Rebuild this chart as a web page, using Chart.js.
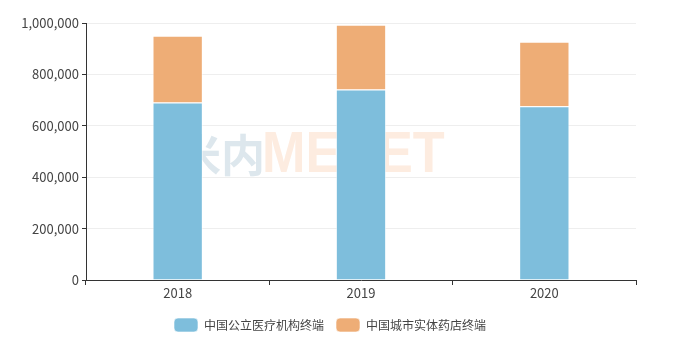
<!DOCTYPE html>
<html>
<head>
<meta charset="utf-8">
<script src="https://cdn.jsdelivr.net/npm/chart.js@4"></script>
<style>
  html, body { margin: 0; padding: 0; background: #fff; }
  #wrap { width: 675px; height: 346px; }
</style>
</head>
<body>
<div id="wrap"><canvas id="myChart" width="675" height="346"></canvas></div>
<script>
'use strict';

var years = ['2018', '2019', '2020'];
var publicHospital = [691000, 741000, 676000];
var retailPharmacy = [259000, 252000, 251000];
var seriesNames = ['中国公立医疗机构终端', '中国城市实体药店终端'];
var yTicks = [0, 200000, 400000, 600000, 800000, 1000000];

var axisColor = '#333';
var textColor = '#444';
var fontFamily = '"Noto Sans CJK SC", "Liberation Sans", sans-serif';
var font = { family: fontFamily, size: 13 };

// faint site watermark behind the bars
const watermark = {
    id: 'watermark',
    beforeDatasetsDraw: function (chart) {
        var ctx = chart.ctx;
        ctx.save();
        ctx.textBaseline = 'alphabetic';
        ctx.textAlign = 'left';
        ctx.font = 'bold 44px ' + fontFamily;
        ctx.fillStyle = 'rgb(221,231,237)';
        ctx.fillText('米内', 177, 172);
        ctx.translate(262, 172);
        ctx.scale(0.9, 1);
        ctx.font = 'bold 58px "Liberation Sans", sans-serif';
        ctx.fillStyle = 'rgb(253,236,224)';
        ctx.fillText('MENET', 0, 0);
        ctx.restore();
    }
};

// nudge the legend so it sits where the original one does
const legendShift = {
    id: 'legendShift',
    afterLayout: function (chart) {
        chart.legend.left += 12;
        chart.legend.right += 12;
    }
};

const data = {
    labels: years,
    datasets: [{
        label: seriesNames[0],
        data: publicHospital,
        backgroundColor: 'rgb(126,190,220)',
        borderColor: 'rgba(255,255,255,0.6)',
        borderWidth: 1,
        categoryPercentage: 0.9,
        barPercentage: 0.305
    }, {
        label: seriesNames[1],
        data: retailPharmacy,
        backgroundColor: 'rgb(238,173,118)',
        borderColor: 'rgba(255,255,255,0.6)',
        borderWidth: 1,
        categoryPercentage: 0.9,
        barPercentage: 0.305
    }]
};

const options = {
    responsive: false,
    animation: false,
    layout: { padding: { top: 23, right: 39, left: 0, bottom: 4 } },
    plugins: {
        tooltip: { enabled: false },
        legend: {
            position: 'bottom',
            labels: {
                color: textColor,
                font: { family: fontFamily, size: 12 },
                boxWidth: 24,
                boxHeight: 14,
                useBorderRadius: true,
                borderRadius: 4,
                padding: 12
            }
        }
    },
    scales: {
        x: {
            stacked: true,
            afterFit: function (axis) { axis.height = 26; },
            border: { color: axisColor, width: 1 },
            grid: { drawOnChartArea: false, drawTicks: true, tickLength: 5, color: axisColor, offset: true },
            ticks: { color: textColor, font: font, padding: 0 }
        },
        y: {
            stacked: true,
            min: 0,
            max: 1000000,
            afterBuildTicks: function (axis) {
                axis.ticks = yTicks.map(function (v) { return { value: v }; });
            },
            afterFit: function (axis) { axis.width = 86; },
            border: { color: axisColor, width: 1 },
            grid: { color: '#eeeeee', tickColor: axisColor, tickLength: 4 },
            ticks: {
                color: textColor,
                font: font,
                padding: 3,
                callback: function (v) { return v.toLocaleString('en-US'); }
            }
        }
    }
};

new Chart(document.getElementById('myChart'), { type: 'bar', data: data, options: options, plugins: [watermark, legendShift] });
</script>
</body>
</html>
